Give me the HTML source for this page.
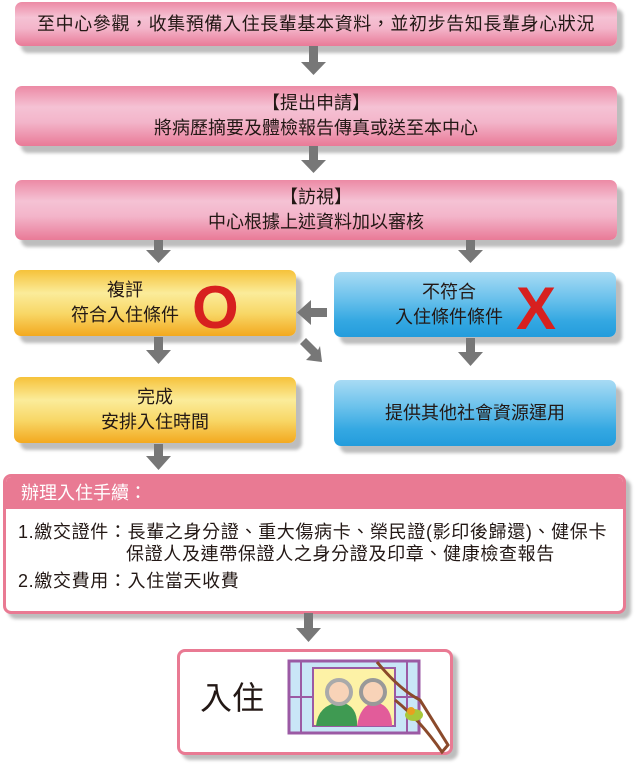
<!DOCTYPE html>
<html><head><meta charset="utf-8"><style>
html,body{margin:0;padding:0;background:#fff;}
body{width:638px;height:769px;position:relative;overflow:hidden;font-family:"Liberation Sans","Noto Sans CJK TC",sans-serif;color:#231815;}
.b{position:absolute;border-radius:7px;box-shadow:6px 7px 3px #bdbdbd;display:flex;flex-direction:column;align-items:center;justify-content:center;font-size:18px;line-height:25px;text-align:center;}
.pk{background:linear-gradient(#ec8aa5 0%,#f5c2d4 35%,#f3b5ca 60%,#e97a97 100%);}
.or{background:linear-gradient(#f6c23a 0%,#fbec9a 35%,#f8d868 65%,#f3a91f 100%);}
.bl{background:linear-gradient(#a8dbf4 0%,#6cc2ec 40%,#34a8e2 75%,#239cdc 100%);}
svg{position:absolute;left:0;top:0;}
</style></head><body>
<div class="b pk" style="left:15px;top:2px;width:602px;height:44px;letter-spacing:0.6px;">至中心參觀，收集預備入住長輩基本資料，並初步告知長輩身心狀況</div>
<div class="b pk" style="left:15px;top:86px;width:602px;height:60px;"><div>【提出申請】</div><div>將病歷摘要及體檢報告傳真或送至本中心</div></div>
<div class="b pk" style="left:15px;top:180px;width:602px;height:60px;"><div>【訪視】</div><div>中心根據上述資料加以審核</div></div>
<div class="b or" style="left:14px;top:270px;width:282px;height:66px;"><div style="margin-right:60px">複評</div><div style="margin-right:60px">符合入住條件</div></div>
<div style="position:absolute;left:192px;top:276px;font:bold 60px/64px 'Liberation Sans',sans-serif;color:#d7201f;">O</div>
<div class="b bl" style="left:334px;top:272px;width:282px;height:65px;"><div style="margin-right:52px">不符合</div><div style="margin-right:52px">入住條件條件</div></div>
<div style="position:absolute;left:516px;top:277px;font:bold 60px/64px 'Liberation Sans',sans-serif;color:#d7201f;">X</div>
<div class="b or" style="left:14px;top:377px;width:282px;height:66px;"><div>完成</div><div>安排入住時間</div></div>
<div class="b bl" style="left:334px;top:380px;width:282px;height:66px;">提供其他社會資源運用</div>

<div style="position:absolute;left:3px;top:474px;width:617px;height:134px;border:3px solid #e97a93;border-radius:8px;background:#fff;box-shadow:5px 5px 3px #bdbdbd;overflow:hidden;">
<div style="background:#e97a93;height:32px;color:#fff;font-size:18px;line-height:32px;padding-left:15px;">辦理入住手續：</div>
<div style="position:absolute;left:12px;top:44px;font-size:18px;line-height:22px;white-space:nowrap;letter-spacing:0.65px;">
<div>1.繳交證件：長輩之身分證、重大傷病卡、榮民證(影印後歸還)、健保卡</div>
<div style="padding-left:108px">保證人及連帶保證人之身分證及印章、健康檢查報告</div>
<div style="margin-top:5px">2.繳交費用：入住當天收費</div>
</div></div>

<div style="position:absolute;left:177px;top:649px;width:270px;height:100px;border:3px solid #e97a93;border-radius:8px;background:#fff;box-shadow:5px 5px 3px #bdbdbd;"></div>
<div style="position:absolute;left:200px;top:679px;font-size:32px;line-height:38px;">入住</div>

<svg width="638" height="769">
<g fill="#777">
<rect x="309" y="46" width="9" height="17"/><polygon points="301,62 326,62 313.5,75"/>
<rect x="309" y="146" width="9" height="19"/><polygon points="301,160 326,160 313.5,173"/>
<rect x="154" y="240" width="9" height="12"/><polygon points="146,250 171,250 158.5,263"/>
<rect x="466" y="240" width="9" height="12"/><polygon points="458,250 483,250 470.5,263"/>
<rect x="154" y="337" width="9" height="16"/><polygon points="146,350 171,350 158.5,364"/>
<rect x="466" y="338" width="9" height="15"/><polygon points="458,352 483,352 470.5,366"/>
<rect x="154" y="444" width="9" height="14"/><polygon points="146,456 171,456 158.5,470"/>
<rect x="304" y="613" width="9" height="16"/><polygon points="296,628 321,628 308.5,642"/>
<rect x="309" y="308" width="18" height="9"/><polygon points="311,300 311,325 297,312.5"/>
<polygon points="300,344 306,338 318,350 320,346 322,362 306,360 311,355"/>
</g>
<g>
<rect x="289" y="661" width="130" height="72" fill="#c9e6f7" stroke="#9b5aa4" stroke-width="3"/>
<rect x="313" y="668" width="82" height="58" fill="#fdf2a6" stroke="#9b5aa4" stroke-width="2"/>
<line x1="301" y1="661" x2="301" y2="733" stroke="#9b5aa4" stroke-width="2"/>
<line x1="289" y1="697" x2="313" y2="697" stroke="#9b5aa4" stroke-width="2"/>
<line x1="407" y1="661" x2="407" y2="733" stroke="#9b5aa4" stroke-width="2"/>
<line x1="395" y1="697" x2="419" y2="697" stroke="#9b5aa4" stroke-width="2"/>
<path d="M316 726 Q318 705 340 702 Q358 705 357 726Z" fill="#3f9a52"/>
<circle cx="339" cy="692" r="12" fill="#f8d3b8" stroke="#aaa" stroke-width="4"/>
<path d="M357 726 Q360 705 375 702 Q392 705 392 726Z" fill="#e25c9a"/>
<circle cx="373" cy="692" r="12" fill="#f8d3b8" stroke="#999" stroke-width="4"/>
<path d="M377 662 Q400 690 420 700 L448 745 L442 752 Q420 720 395 700" fill="none" stroke="#8b4a2b" stroke-width="3"/>
<ellipse cx="414" cy="715" rx="9" ry="6" fill="#a8c83a"/>
<circle cx="411" cy="711" r="4" fill="#e8a020"/>
</g>
</svg>
</body></html>
